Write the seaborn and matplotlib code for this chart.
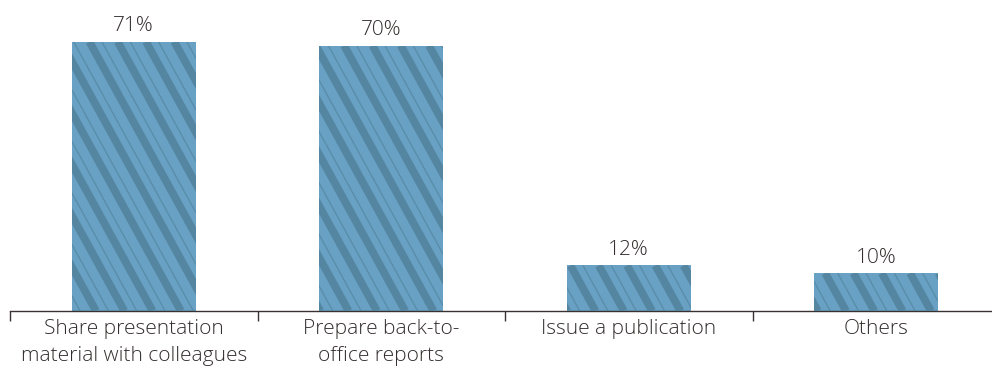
import numpy as np
import pandas as pd
import matplotlib
matplotlib.use("Agg")
import matplotlib.pyplot as plt
from matplotlib.collections import LineCollection
from matplotlib.transforms import IdentityTransform
import seaborn as sns

categories = [
    "Share presentation\nmaterial with colleagues",
    "Prepare back-to-\noffice reports",
    "Issue a publication",
    "Others",
]
values = [71, 70, 12, 10]
value_labels = ["71%", "70%", "12%", "10%"]

BAR_COLOR = "#69a1c4"
STRIPE_COLOR = "#54859f"
TEXT_COLOR = "#332d2d"
AXIS_COLOR = "#3a3232"

sns.set_theme(style="white")
plt.rcParams["font.family"] = ["Open Sans", "DejaVu Sans"]
plt.rcParams["font.weight"] = "light"

DPI = 100
fig = plt.figure(figsize=(9.92, 3.68), dpi=DPI)
W, H = 992, 368
ax = fig.add_axes([10 / W, 57 / H, 990 / W, 311 / H])

df = pd.DataFrame({"category": categories, "value": values})
sns.barplot(data=df, x="category", y="value", color=BAR_COLOR, width=0.5,
            saturation=1, ax=ax, edgecolor="none", linewidth=0)

ax.set_xlim(-0.5, 3.5)
ax.set_ylim(0, 82)
ax.set_xlabel("")
ax.set_ylabel("")
ax.set_yticks([])

for side in ["left", "right", "top"]:
    ax.spines[side].set_visible(False)
ax.spines["bottom"].set_color(AXIS_COLOR)
ax.spines["bottom"].set_linewidth(1.0)

# category labels centred, separator ticks between categories
ax.set_xticks(range(len(categories)))
ax.set_xticklabels(categories, fontsize=15, color=TEXT_COLOR, linespacing=1.45,
                   fontweight="light")
ax.tick_params(axis="x", which="major", length=0, pad=6)
ax.set_xticks(np.arange(-0.5, len(categories), 1.0), minor=True)
ax.tick_params(axis="x", which="minor", bottom=True, length=7, width=1.0,
               color=AXIS_COLOR, direction="out")

# diagonal stripe decoration inside each bar
fig.canvas.draw()
slope = 0.55        # horizontal shift per pixel going down
period = 28.3       # horizontal distance between stripe groups (px)
thick_w = 9.0 * 0.87 * 72 / DPI
thin_w = 1.3 * 72 / DPI
for patch in ax.patches:
    x0, y0 = ax.transData.transform((patch.get_x(), 0))
    x1, y1 = ax.transData.transform((patch.get_x() + patch.get_width(), patch.get_height()))
    h = y1 - y0
    thick, thin = [], []
    start = np.floor((x0 - slope * h - period) / period) * period
    for c in np.arange(start, x1 + period, period):
        # c is the x position of the stripe group at the top of the bar
        thick.append([(c + 4.5, y1), (c + 4.5 + slope * h, y0)])
        thin.append([(c + 17, y1), (c + 17 + slope * h, y0)])
    for segs, lw, a in [(thick, thick_w, 0.95), (thin, thin_w, 0.75)]:
        lc = LineCollection(segs, colors=STRIPE_COLOR, linewidths=lw, alpha=a,
                            transform=IdentityTransform())
        lc.set_clip_path(patch)
        fig.add_artist(lc)

for i, (v, lab) in enumerate(zip(values, value_labels)):
    ax.annotate(lab, xy=(i, v), xytext=(0, 4), textcoords="offset points",
                ha="center", va="bottom", fontsize=15, color=TEXT_COLOR,
                fontweight="light")

fig.savefig("out.png", dpi=DPI)
